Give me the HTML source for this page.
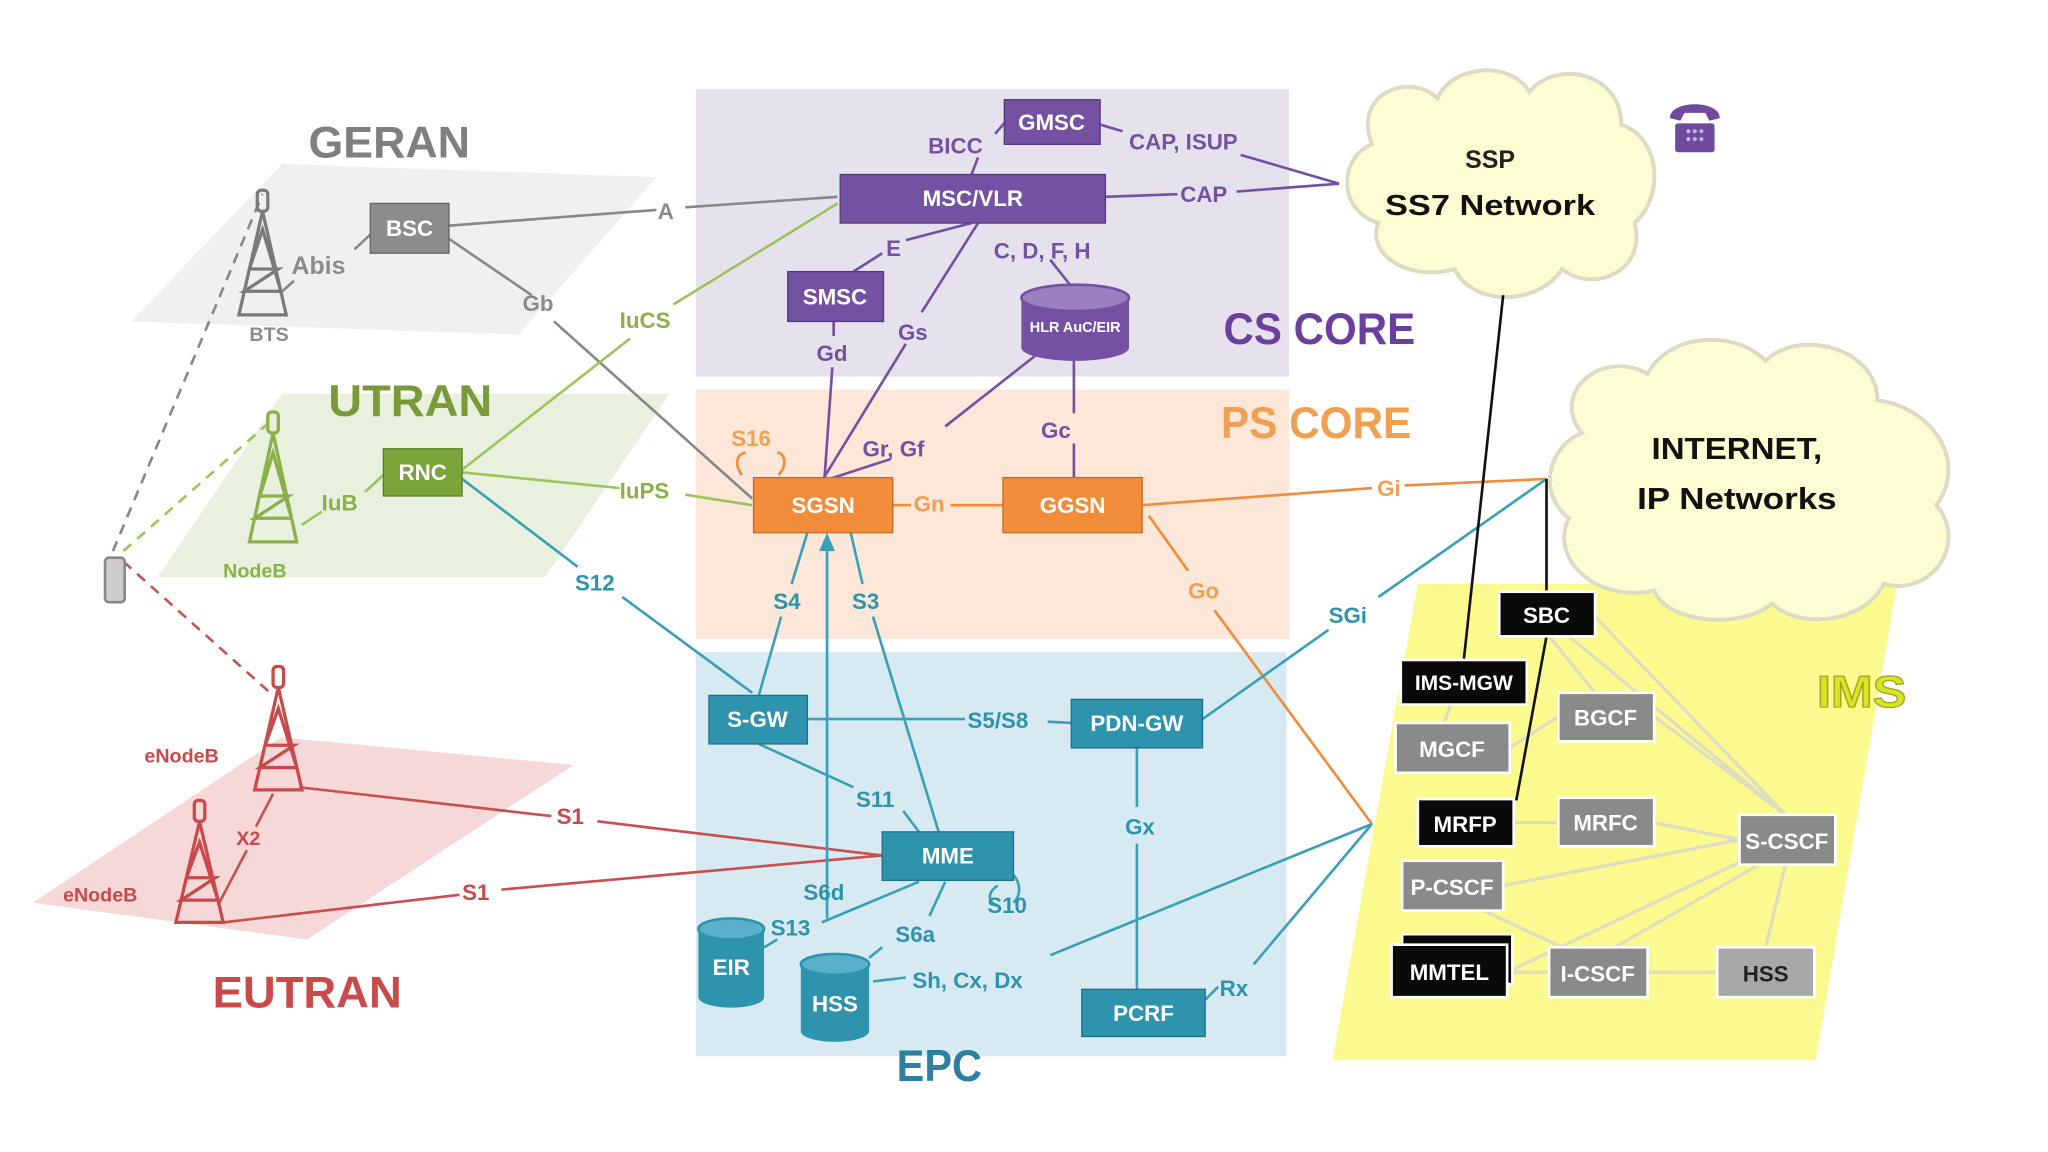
<!DOCTYPE html>
<html><head><meta charset="utf-8"><style>
html,body{margin:0;padding:0;background:#fff;}
svg{display:block;}
text{font-family:"Liberation Sans",sans-serif;font-weight:bold;}
</style></head><body>
<svg width="2048" height="1152" viewBox="0 0 1560 878" preserveAspectRatio="none" xmlns="http://www.w3.org/2000/svg">
<rect width="1560" height="878" fill="#fff"/>
<rect x="530" y="68" width="452" height="219" fill="#e5e2ed"/>
<rect x="530" y="297" width="452" height="190" fill="#fce7d9"/>
<rect x="530" y="497" width="450" height="308" fill="#d7eaf2"/>
<polygon points="100,245 215,125 500,135 395,255" fill="#f0f0f0"/>
<polygon points="120,440 215,300 510,300 415,440" fill="#e9f1de"/>
<polygon points="25,688 214,562 437,583 234,716" fill="#f6d8d8"/>
<polygon points="1080,445 1445,445 1383,808 1015,808" fill="#fafa8e"/>
<g fill="#fdfcd2" stroke="#dcdcc4" stroke-width="3">
<path d="M1045,110 C1030,70 1075,55 1095,75 C1105,50 1150,45 1165,70 C1185,45 1235,55 1235,95 C1265,105 1268,150 1245,170 C1255,205 1215,225 1190,205 C1170,235 1120,232 1108,205 C1075,215 1040,195 1050,170 C1018,160 1020,120 1045,110 Z"/>
<path d="M1205,330 C1180,300 1220,265 1255,285 C1270,255 1320,250 1345,275 C1370,250 1430,265 1430,305 C1470,310 1500,350 1475,385 C1500,415 1470,455 1435,445 C1420,475 1370,480 1350,460 C1325,480 1270,475 1260,450 C1215,460 1180,425 1195,395 C1170,375 1180,340 1205,330 Z"/>
</g>
<text x="1135" y="128" font-size="19" text-anchor="middle" fill="#222" font-weight="normal">SSP</text>
<text x="1135" y="164" font-size="22" text-anchor="middle" fill="#111" textLength="160" lengthAdjust="spacingAndGlyphs">SS7 Network</text>
<text x="1323" y="350" font-size="23" text-anchor="middle" fill="#111" textLength="130" lengthAdjust="spacingAndGlyphs">INTERNET,</text>
<text x="1323" y="388" font-size="23" text-anchor="middle" fill="#111" textLength="152" lengthAdjust="spacingAndGlyphs">IP Networks</text>
<g fill="#6f4a9e"><path d="M1272,90 C1272,76 1310,76 1310,90 L1302,92 L1299,86 L1283,86 L1280,92 Z"/><rect x="1276" y="94" width="30" height="22" rx="2"/></g>
<g fill="#c8b8e0"><circle cx="1286" cy="100" r="1.5"/><circle cx="1291" cy="100" r="1.5"/><circle cx="1296" cy="100" r="1.5"/><circle cx="1286" cy="106" r="1.5"/><circle cx="1291" cy="106" r="1.5"/><circle cx="1296" cy="106" r="1.5"/></g>
<g stroke="#deddc0" stroke-width="2.5">
<line x1="1195" y1="485" x2="1360" y2="621"/><line x1="1215" y1="470" x2="1360" y2="621"/>
<line x1="1260" y1="546" x2="1360" y2="621"/><line x1="1260" y1="627" x2="1325" y2="640"/>
<line x1="1145" y1="675" x2="1325" y2="640"/><line x1="1150" y1="740" x2="1330" y2="655"/>
<line x1="1230" y1="722" x2="1340" y2="659"/><line x1="1345" y1="722" x2="1360" y2="659"/>
<line x1="1255" y1="741" x2="1308" y2="741"/><line x1="1150" y1="741" x2="1180" y2="741"/>
<line x1="1130" y1="694" x2="1190" y2="722"/><line x1="1153" y1="627" x2="1187" y2="627"/>
<line x1="1150" y1="570" x2="1187" y2="546"/><line x1="1180" y1="485" x2="1215" y2="528"/>
<line x1="1105" y1="537" x2="1100" y2="551"/>
</g>
<g stroke-width="2" stroke-dasharray="8,6" fill="none">
<line x1="86" y1="420" x2="200" y2="148" stroke="#888"/>
<line x1="94" y1="420" x2="205" y2="322" stroke="#9cc45a"/>
<line x1="94" y1="428" x2="208" y2="530" stroke="#c85050"/>
</g>
<g stroke-width="2" fill="none">
<polyline points="342,172 500,160" stroke="#888"/><polyline points="522,158 638,150" stroke="#888"/>
<polyline points="342,182 405,225" stroke="#888"/><polyline points="422,245 573,380" stroke="#888"/>
<polyline points="352,358 480,258" stroke="#9cc45a"/><polyline points="513,232 638,155" stroke="#9cc45a"/>
<polyline points="352,360 472,372" stroke="#9cc45a"/><polyline points="522,377 573,385" stroke="#9cc45a"/>
<polyline points="352,365 440,432" stroke="#3aa0b8"/><polyline points="474,455 573,528" stroke="#3aa0b8"/>
<line x1="215" y1="222" x2="224" y2="214" stroke="#888"/><line x1="270" y1="190" x2="283" y2="178" stroke="#888"/>
<line x1="230" y1="400" x2="245" y2="390" stroke="#9cc45a"/><line x1="278" y1="375" x2="292" y2="362" stroke="#9cc45a"/>
<line x1="208" y1="605" x2="195" y2="630" stroke="#c85050"/><line x1="188" y1="648" x2="166" y2="690" stroke="#c85050"/>
<polyline points="228,600 420,622" stroke="#c85050"/><polyline points="455,626 672,652" stroke="#c85050"/>
<polyline points="170,703 350,682" stroke="#c85050"/><polyline points="382,678 672,652" stroke="#c85050"/>
<g stroke="#7451a3">
<line x1="740" y1="133" x2="745" y2="120"/><line x1="758" y1="102" x2="770" y2="88"/>
<line x1="838" y1="95" x2="855" y2="100"/><line x1="945" y1="118" x2="1020" y2="140"/>
<line x1="842" y1="150" x2="897" y2="148"/><line x1="942" y1="146" x2="1020" y2="140"/>
<line x1="650" y1="207" x2="672" y2="193"/><line x1="690" y1="183" x2="740" y2="170"/>
<line x1="800" y1="198" x2="815" y2="217"/>
<line x1="745" y1="170" x2="702" y2="238"/><line x1="690" y1="262" x2="627" y2="365"/>
<line x1="635" y1="245" x2="635" y2="256"/><line x1="634" y1="280" x2="628" y2="365"/>
<line x1="790" y1="270" x2="720" y2="325"/><line x1="678" y1="350" x2="632" y2="365"/>
<line x1="818" y1="275" x2="818" y2="315"/><line x1="818" y1="338" x2="818" y2="364"/>
</g>
<g stroke="#f08c3a">
<line x1="680" y1="385" x2="694" y2="385"/><line x1="724" y1="385" x2="764" y2="385"/>
<line x1="870" y1="385" x2="1045" y2="372"/><line x1="1070" y1="370" x2="1178" y2="365"/>
<line x1="875" y1="393" x2="905" y2="435"/><line x1="925" y1="465" x2="1045" y2="628"/>
<path d="M565,362 C558,352 563,345 568,345 M592,345 C598,345 600,355 593,362"/>
</g>
<g stroke="#3aa0b8">
<line x1="578" y1="530" x2="595" y2="470"/><line x1="603" y1="445" x2="615" y2="406"/>
<line x1="715" y1="634" x2="665" y2="470"/><line x1="657" y1="445" x2="648" y2="406"/>
<line x1="630" y1="700" x2="630" y2="410"/>
<line x1="615" y1="548" x2="735" y2="548"/><line x1="798" y1="550" x2="816" y2="551"/>
<line x1="578" y1="567" x2="650" y2="600"/><line x1="688" y1="618" x2="700" y2="634"/>
<line x1="582" y1="722" x2="592" y2="716"/><line x1="626" y1="703" x2="700" y2="672"/>
<line x1="662" y1="730" x2="672" y2="722"/><line x1="708" y1="698" x2="720" y2="672"/>
<line x1="665" y1="748" x2="690" y2="745"/><line x1="800" y1="728" x2="1045" y2="628"/>
<line x1="866" y1="570" x2="866" y2="615"/><line x1="866" y1="643" x2="866" y2="754"/>
<line x1="918" y1="762" x2="928" y2="752"/><line x1="955" y1="735" x2="1045" y2="628"/>
<line x1="916" y1="548" x2="1012" y2="480"/><line x1="1050" y1="455" x2="1178" y2="365"/>
<path d="M770,665 C778,672 778,682 772,688 M760,675 C752,680 752,688 760,690"/>
</g>
<polygon points="630,406 624,420 636,420" fill="#3aa0b8"/>
<line x1="1145" y1="225" x2="1115" y2="503" stroke="#111"/>
<line x1="1178" y1="365" x2="1178" y2="451" stroke="#111"/>
<line x1="1178" y1="485" x2="1155" y2="610" stroke="#111"/>
</g>
<g fill="none" stroke-width="2.5">
<g stroke="#7a7a7a"><rect x="196" y="145" width="8" height="16" rx="3"/><path d="M200,161 L182,240 L218,240 Z M200,175 L214,222 L186,222 L212,205 L190,205 Z"/></g>
<g stroke="#8ab04a"><rect x="204" y="314" width="8" height="16" rx="3"/><path d="M208,330 L190,413 L226,413 Z M208,345 L222,395 L194,395 L220,378 L198,378 Z"/></g>
<g stroke="#c84a4a"><rect x="208" y="508" width="8" height="16" rx="3"/><path d="M212,524 L194,602 L230,602 Z M212,540 L226,585 L198,585 L224,568 L202,568 Z"/>
<rect x="148" y="610" width="8" height="16" rx="3"/><path d="M152,626 L134,703 L170,703 Z M152,642 L166,686 L138,686 L164,669 L142,669 Z"/></g>
</g>
<rect x="80" y="425" width="15" height="34" rx="3" fill="#ccc" stroke="#888" stroke-width="2"/>
<g font-size="17" text-anchor="middle">
<rect x="282" y="155" width="60" height="38" fill="#8c8c8c" stroke="#666"/><text x="312" y="180" fill="#fff">BSC</text>
<rect x="292" y="342" width="60" height="36" fill="#7aa43a" stroke="#5a7e28"/><text x="322" y="366" fill="#fff">RNC</text>
<rect x="765" y="76" width="73" height="34" fill="#7451a3" stroke="#553a80"/><text x="801" y="99" fill="#fff">GMSC</text>
<rect x="640" y="133" width="202" height="37" fill="#7451a3" stroke="#553a80"/><text x="741" y="157" fill="#fff">MSC/VLR</text>
<rect x="600" y="207" width="73" height="38" fill="#7451a3" stroke="#553a80"/><text x="636" y="232" fill="#fff">SMSC</text>
<path d="M778,227 L778,265 A41,10 0 0 0 860,265 L860,227 Z" fill="#7451a3"/><ellipse cx="819" cy="227" rx="41" ry="10" fill="#9a80c0" stroke="#7451a3" stroke-width="2"/>
<text x="819" y="253" font-size="11" fill="#fff">HLR AuC/EIR</text>
<rect x="574" y="364" width="106" height="42" fill="#f08c3a" stroke="#c86a20"/><text x="627" y="391" fill="#fff">SGSN</text>
<rect x="764" y="364" width="106" height="42" fill="#f08c3a" stroke="#c86a20"/><text x="817" y="391" fill="#fff">GGSN</text>
<rect x="540" y="530" width="75" height="37" fill="#2e93ad" stroke="#1f7088"/><text x="577" y="554" fill="#fff">S-GW</text>
<rect x="816" y="533" width="100" height="37" fill="#2e93ad" stroke="#1f7088"/><text x="866" y="557" fill="#fff">PDN-GW</text>
<rect x="672" y="634" width="100" height="37" fill="#2e93ad" stroke="#1f7088"/><text x="722" y="658" fill="#fff">MME</text>
<rect x="824" y="754" width="94" height="36" fill="#2e93ad" stroke="#1f7088"/><text x="871" y="778" fill="#fff">PCRF</text>
<path d="M532,708 L532,760 A25,8 0 0 0 582,760 L582,708 Z" fill="#2e93ad"/><ellipse cx="557" cy="708" rx="25" ry="8" fill="#5ab0c8" stroke="#2e93ad" stroke-width="2"/><text x="557" y="743" fill="#fff">EIR</text>
<path d="M610,735 L610,786 A26,8 0 0 0 662,786 L662,735 Z" fill="#2e93ad"/><ellipse cx="636" cy="735" rx="26" ry="8" fill="#5ab0c8" stroke="#2e93ad" stroke-width="2"/><text x="636" y="771" fill="#fff">HSS</text>
<g stroke="#fff" stroke-width="2">
<rect x="1142" y="451" width="73" height="34" fill="#0a0a0a"/>
<rect x="1067" y="503" width="96" height="34" fill="#0a0a0a"/>
<rect x="1187" y="528" width="73" height="37" fill="#8a8a8a"/>
<rect x="1063" y="551" width="87" height="38" fill="#8a8a8a"/>
<rect x="1080" y="609" width="73" height="36" fill="#0a0a0a"/>
<rect x="1187" y="608" width="73" height="37" fill="#8a8a8a"/>
<rect x="1325" y="621" width="73" height="38" fill="#8a8a8a"/>
<rect x="1068" y="656" width="77" height="38" fill="#8a8a8a"/>
<rect x="1068" y="712" width="84" height="38" fill="#0a0a0a"/>
<rect x="1060" y="720" width="88" height="40" fill="#0a0a0a"/>
<rect x="1180" y="722" width="75" height="38" fill="#8a8a8a"/>
<rect x="1308" y="722" width="74" height="38" fill="#a8a8a8"/>
</g>
<text x="1178" y="475" fill="#fff">SBC</text>
<text x="1115" y="526" fill="#fff" font-size="16">IMS-MGW</text>
<text x="1223" y="553" fill="#fff">BGCF</text>
<text x="1106" y="577" fill="#fff">MGCF</text>
<text x="1116" y="634" fill="#fff">MRFP</text>
<text x="1223" y="633" fill="#fff">MRFC</text>
<text x="1361" y="647" fill="#fff">S-CSCF</text>
<text x="1106" y="682" fill="#fff">P-CSCF</text>
<text x="1104" y="747" fill="#fff">MMTEL</text>
<text x="1217" y="748" fill="#fff">I-CSCF</text>
<text x="1345" y="748" fill="#222">HSS</text>
</g>
<g font-size="17">
<text x="222" y="209" fill="#8c8c8c" font-size="19">Abis</text>
<text x="190" y="260" fill="#8c8c8c" font-size="15">BTS</text>
<text x="501" y="167" fill="#8c8c8c">A</text>
<text x="398" y="237" fill="#8c8c8c">Gb</text>
<text x="472" y="250" fill="#8ab04a">IuCS</text>
<text x="472" y="380" fill="#8ab04a">IuPS</text>
<text x="245" y="389" fill="#8ab04a">IuB</text>
<text x="170" y="440" fill="#8ab04a" font-size="15">NodeB</text>
<text x="438" y="450" fill="#2e93ad">S12</text>
<text x="110" y="581" fill="#c84a4a" font-size="15">eNodeB</text>
<text x="48" y="687" fill="#c84a4a" font-size="15">eNodeB</text>
<text x="180" y="644" fill="#c84a4a" font-size="15">X2</text>
<text x="424" y="628" fill="#c84a4a">S1</text>
<text x="352" y="686" fill="#c84a4a">S1</text>
<text x="707" y="117" fill="#7451a3">BICC</text>
<text x="860" y="114" fill="#7451a3">CAP, ISUP</text>
<text x="899" y="154" fill="#7451a3">CAP</text>
<text x="675" y="195" fill="#7451a3">E</text>
<text x="757" y="197" fill="#7451a3">C, D, F, H</text>
<text x="684" y="259" fill="#7451a3">Gs</text>
<text x="622" y="275" fill="#7451a3">Gd</text>
<text x="657" y="348" fill="#7451a3">Gr, Gf</text>
<text x="793" y="334" fill="#7451a3">Gc</text>
<text x="557" y="340" fill="#f0a050">S16</text>
<text x="696" y="390" fill="#f0a050">Gn</text>
<text x="1049" y="378" fill="#f0a050">Gi</text>
<text x="905" y="456" fill="#f0a050">Go</text>
<text x="1012" y="475" fill="#2e93ad">SGi</text>
<text x="589" y="464" fill="#2e93ad">S4</text>
<text x="649" y="464" fill="#2e93ad">S3</text>
<text x="737" y="555" fill="#2e93ad">S5/S8</text>
<text x="652" y="615" fill="#2e93ad">S11</text>
<text x="612" y="686" fill="#2e93ad">S6d</text>
<text x="752" y="696" fill="#2e93ad">S10</text>
<text x="587" y="713" fill="#2e93ad">S13</text>
<text x="682" y="718" fill="#2e93ad">S6a</text>
<text x="695" y="753" fill="#2e93ad">Sh, Cx, Dx</text>
<text x="857" y="636" fill="#2e93ad">Gx</text>
<text x="929" y="759" fill="#2e93ad">Rx</text>
</g>
<g font-size="34">
<text x="235" y="120" fill="#7f7f7f" textLength="123" lengthAdjust="spacingAndGlyphs">GERAN</text>
<text x="250" y="317" fill="#7a9a3a" textLength="125" lengthAdjust="spacingAndGlyphs">UTRAN</text>
<text x="162" y="768" fill="#c84a4a" textLength="144" lengthAdjust="spacingAndGlyphs">EUTRAN</text>
<text x="932" y="262" fill="#6b3fa0" textLength="146" lengthAdjust="spacingAndGlyphs">CS CORE</text>
<text x="930" y="334" fill="#f0a050" textLength="145" lengthAdjust="spacingAndGlyphs">PS CORE</text>
<text x="683" y="824" fill="#2e7fa0" textLength="65" lengthAdjust="spacingAndGlyphs">EPC</text>
<text x="1384" y="539" fill="#d8e428" stroke="#a0a818" stroke-width="1" textLength="68" lengthAdjust="spacingAndGlyphs">IMS</text>
</g>
</svg>
</body></html>
